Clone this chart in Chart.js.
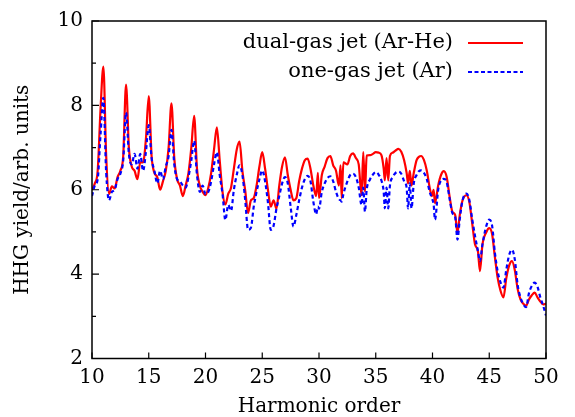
<!DOCTYPE html>
<html><head><meta charset="utf-8">
<script src="https://cdn.jsdelivr.net/npm/chart.js@4/dist/chart.umd.min.js"></script>
<style>html,body{margin:0;padding:0;background:#fff}#wrap{width:575px;height:417px}</style>
</head><body><div id="wrap"><canvas id="c" width="575" height="417"></canvas></div>
<script>
const harmonics = [
10.00,10.25,10.50,10.75,11.00,11.25,11.50,11.75,12.00,12.25,12.50,12.75,13.00,13.25,13.50,13.75,14.00,14.25,14.50,14.75,
15.00,15.25,15.50,15.75,16.00,16.25,16.50,16.75,17.00,17.25,17.50,17.75,18.00,18.25,18.50,18.75,19.00,19.25,19.50,19.75,
20.00,20.25,20.50,20.75,21.00,21.25,21.50,21.75,22.00,22.25,22.50,22.75,23.00,23.25,23.50,23.75,24.00,24.25,24.50,24.75,
25.00,25.25,25.50,25.75,26.00,26.25,26.50,26.75,27.00,27.25,27.50,27.75,28.00,28.25,28.50,28.75,29.00,29.25,29.50,29.75,
29.90,30.00,30.25,30.50,30.75,31.00,31.25,31.50,31.75,31.90,32.00,32.15,32.50,32.75,33.00,33.25,33.50,33.75,33.90,34.05,
34.20,34.50,34.75,35.00,35.25,35.50,35.70,35.80,35.95,36.10,36.25,36.50,36.75,37.00,37.25,37.50,37.72,37.85,38.00,38.15,
38.35,38.60,38.80,39.00,39.25,39.50,39.75,39.95,40.10,40.22,40.50,40.75,41.00,41.25,41.50,41.75,42.00,42.20,42.40,42.65,
43.00,43.25,43.50,43.75,44.00,44.18,44.40,44.75,45.00,45.25,45.50,45.75,46.00,46.25,46.50,46.75,47.00,47.25,47.50,47.75,
48.00,48.25,48.50,48.75,49.00,49.25,49.50,49.75,50.00];

const dualGasArHe = [
6.00,6.15,6.45,7.90,8.92,6.80,5.90,6.08,6.03,6.30,6.45,6.80,8.49,7.00,6.55,6.45,6.25,6.65,6.65,7.20,
8.22,6.80,6.40,6.30,6.00,6.20,6.45,7.00,8.05,6.75,6.25,6.10,5.85,6.10,6.40,7.00,7.75,6.50,6.10,5.95,
5.87,6.05,6.40,6.95,7.48,6.70,5.95,5.65,5.90,6.05,6.50,6.95,7.14,6.45,5.98,5.45,5.75,5.80,6.10,6.55,
6.89,6.50,6.00,5.60,5.75,5.55,6.10,6.55,6.77,6.35,6.00,5.75,5.80,6.20,6.50,6.70,6.74,6.50,6.10,5.85,
6.40,5.80,6.35,6.55,6.75,6.80,6.58,6.45,6.10,6.58,5.80,6.65,6.60,6.80,6.86,6.75,6.60,5.87,6.89,5.95,
6.81,6.82,6.85,6.89,6.88,6.82,6.50,6.22,6.75,6.22,6.80,6.88,6.93,6.97,6.90,6.70,6.40,6.15,6.45,6.10,
6.40,6.70,6.78,6.80,6.70,6.45,6.05,5.85,6.00,5.68,6.10,6.35,6.44,6.30,5.85,5.48,5.40,4.98,5.40,5.75,
5.87,5.70,5.20,4.70,4.55,4.07,4.70,5.00,5.09,4.95,4.40,3.90,3.60,3.45,3.90,4.20,4.31,4.10,3.65,3.40,
3.30,3.25,3.40,3.50,3.56,3.45,3.35,3.28,3.30];

const oneGasAr = [
5.85,6.10,6.25,7.30,8.18,6.40,5.75,5.95,6.00,6.25,6.38,6.70,7.83,6.85,6.60,6.85,6.50,6.85,6.45,6.90,
7.53,6.75,6.45,6.15,6.45,6.25,6.55,6.80,7.42,6.60,6.25,6.20,6.10,6.05,6.30,6.70,7.16,6.35,5.95,6.10,
5.90,5.95,6.20,6.60,6.89,6.35,5.90,5.28,5.64,5.50,6.00,6.35,6.58,6.35,5.75,5.05,5.10,5.60,5.95,6.25,
6.46,6.20,5.70,5.05,5.15,5.55,5.85,6.15,6.30,6.15,5.60,5.13,5.40,5.75,6.05,6.25,6.33,6.20,5.72,5.42,
5.60,5.55,5.95,6.15,6.28,6.32,6.20,5.95,5.78,5.75,5.72,5.90,6.20,6.35,6.38,6.30,6.05,5.64,6.05,5.48,
6.00,6.25,6.36,6.42,6.36,6.22,5.95,5.56,6.05,5.56,6.10,6.30,6.40,6.43,6.38,6.20,6.05,5.56,6.15,5.56,
6.15,6.35,6.44,6.46,6.40,6.25,5.95,5.80,5.65,5.29,6.00,6.22,6.26,6.18,5.80,5.45,5.35,4.82,5.30,5.75,
5.91,5.75,5.30,4.90,4.55,4.31,4.70,5.15,5.29,5.15,4.50,4.05,3.80,3.68,4.10,4.45,4.58,4.35,3.75,3.45,
3.29,3.22,3.55,3.72,3.80,3.70,3.45,3.25,3.02];

const xTickValues = [10,15,20,25,30,35,40,45,50];
const yTickValues = [2,4,6,8,10];
const yMinorTickValues = [3,5,7,9];
const seriesLabels = ['dual-gas jet (Ar-He)', 'one-gas jet (Ar)'];
const xTitle = 'Harmonic order';
const yTitle = 'HHG yield/arb. units';

const FONT = 'DejaVu Serif';
const FS = 20;
const LFS = 21;

const framePlugin = {
  id: 'frame',
  afterDraw(chart) {
    const {ctx, chartArea: a, scales: {x, y}} = chart;
    ctx.save();
    ctx.strokeStyle = '#000';
    ctx.lineWidth = 1.5;
    ctx.strokeRect(a.left, a.top, a.right - a.left, a.bottom - a.top);
    ctx.lineWidth = 1.2;
    ctx.beginPath();
    xTickValues.forEach(v => { const p = x.getPixelForValue(v); ctx.moveTo(p, a.bottom); ctx.lineTo(p, a.bottom - 6); });
    yTickValues.forEach(v => { const p = y.getPixelForValue(v); ctx.moveTo(a.left, p); ctx.lineTo(a.left + 7, p); });
    yMinorTickValues.forEach(v => { const p = y.getPixelForValue(v); ctx.moveTo(a.left, p); ctx.lineTo(a.left + 4, p); });
    ctx.stroke();
    // legend
    ctx.font = LFS + 'px "' + FONT + '"';
    ctx.fillStyle = '#000';
    ctx.textAlign = 'right';
    ctx.textBaseline = 'middle';
    const rows = [{y: 43, color: '#ff0000', dash: []}, {y: 72, color: '#0000ff', dash: [4, 2.5]}];
    rows.forEach((r, i) => {
      ctx.fillText(seriesLabels[i], 453, r.y);
      ctx.beginPath();
      ctx.strokeStyle = r.color;
      ctx.lineWidth = 2;
      ctx.setLineDash(r.dash);
      ctx.moveTo(468, r.y);
      ctx.lineTo(523, r.y);
      ctx.stroke();
    });
    ctx.restore();
  }
};

new Chart(document.getElementById('c'), {
  type: 'line',
  data: {
    datasets: [
      {label: seriesLabels[0], data: harmonics.map((h, i) => ({x: h, y: dualGasArHe[i]})),
       borderColor: '#ff0000', borderWidth: 2.2, pointRadius: 0, fill: false,
       cubicInterpolationMode: 'monotone', order: 2},
      {label: seriesLabels[1], data: harmonics.map((h, i) => ({x: h, y: oneGasAr[i]})),
       borderColor: '#0000ff', borderWidth: 2.2, borderDash: [4, 3], pointRadius: 0, fill: false,
       cubicInterpolationMode: 'monotone', order: 1}
    ]
  },
  options: {
    responsive: false, animation: false, devicePixelRatio: 1,
    layout: {padding: {top: 17.5, right: 29, bottom: 0, left: 0}},
    plugins: {legend: {display: false}, tooltip: {enabled: false}},
    scales: {
      x: {type: 'linear', min: 10, max: 50,
        afterBuildTicks: s => { s.ticks = xTickValues.map(v => ({value: v})); },
        ticks: {color: '#000', font: {family: FONT, size: FS}, padding: 7, maxRotation: 0},
        grid: {drawOnChartArea: false, drawTicks: false}, border: {display: false},
        title: {display: true, text: xTitle, color: '#000', font: {family: FONT, size: FS, lineHeight: 1.0}, padding: {top: 0, bottom: 0}},
        afterFit: s => { s.height = 58.5; }
      },
      y: {type: 'linear', min: 2, max: 10,
        afterBuildTicks: s => { s.ticks = yTickValues.map(v => ({value: v})); },
        ticks: {color: '#000', font: {family: FONT, size: FS}, padding: 9},
        grid: {drawOnChartArea: false, drawTicks: false}, border: {display: false},
        title: {display: true, text: yTitle, color: '#000', font: {family: FONT, size: FS, lineHeight: 1.2}, padding: {top: 11, bottom: 0}},
        afterFit: s => { s.width = 92; }
      }
    }
  },
  plugins: [framePlugin]
});
</script>
</body></html>
